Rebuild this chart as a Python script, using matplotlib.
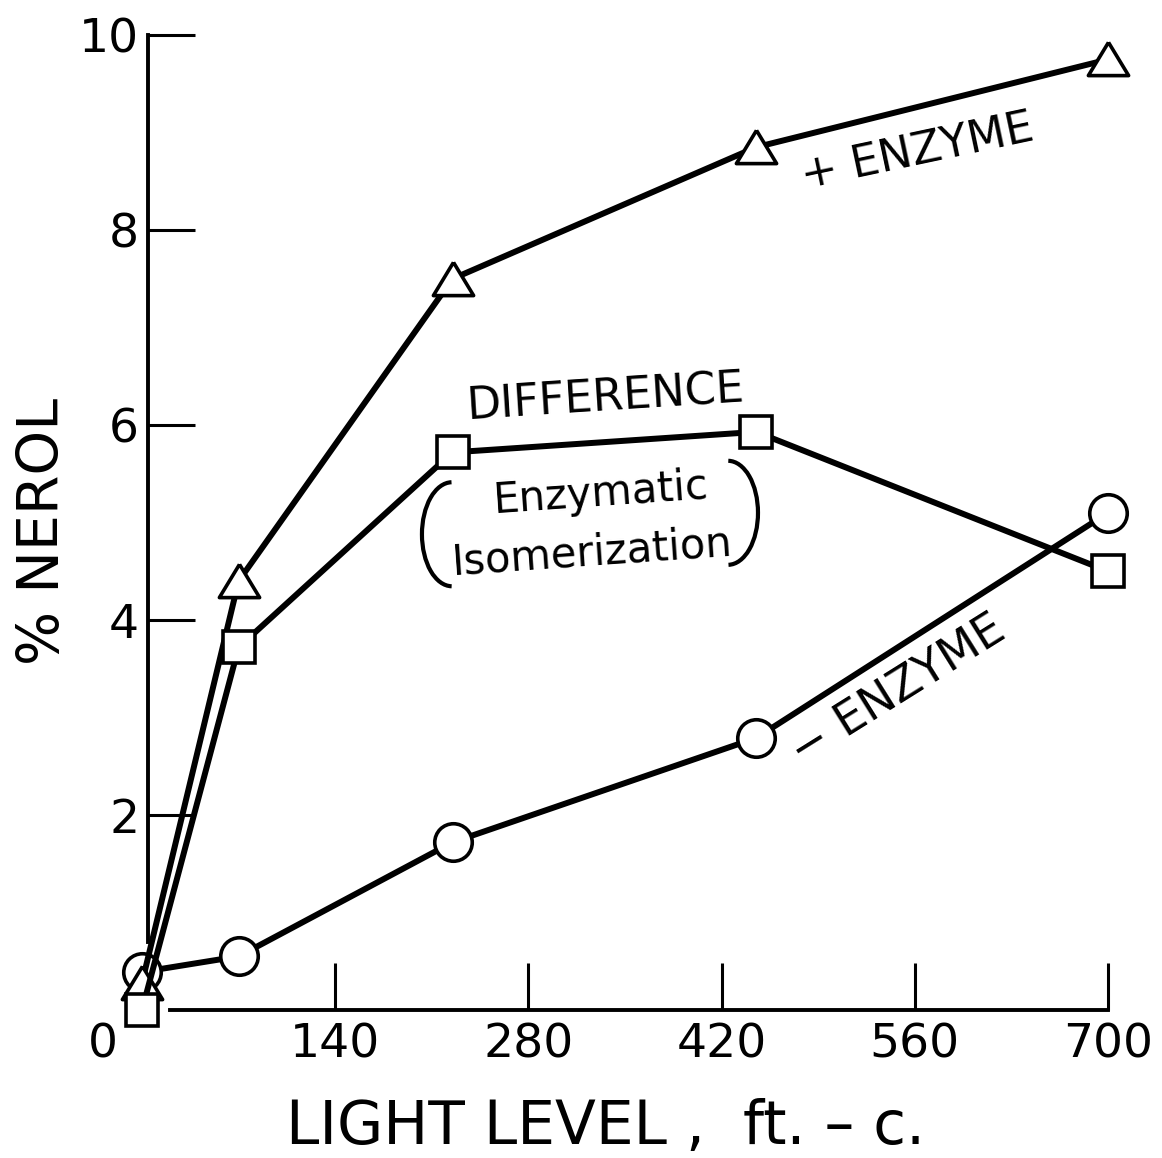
import matplotlib

matplotlib.use("Agg")
import matplotlib.pyplot as plt
from matplotlib.patches import Arc

# light level (ft.-c.) and % nerol for each series
light = [0, 70, 225, 445, 700]
plus_enzyme = [0.28, 4.4, 7.5, 8.85, 9.75]
minus_enzyme = [0.39, 0.55, 1.72, 2.79, 5.1]
difference = [0.0, 3.72, 5.72, 5.93, 4.5]

x_ticks = [140, 280, 420, 560, 700]
y_ticks = [2, 4, 6, 8, 10]

plt.rcParams["font.family"] = ["DejaVu Sans"]

fig = plt.figure(figsize=(11.62, 11.58), dpi=100)
ax = fig.add_axes([0, 0, 1, 1])
ax.set_xlim(-102.9, 739.1)
ax.set_ylim(-1.518, 10.36)

line_kw = dict(color="black", lw=4.3, markerfacecolor="white",
               markeredgecolor="black", markeredgewidth=2.6, clip_on=False)
tri = [(0, 0.85), (-1, -0.8), (1, -0.8), (0, 0.85)]

ax.plot(light, minus_enzyme, marker="o", ms=27, zorder=3, **line_kw)
ax.plot(light, plus_enzyme, marker=tri, ms=29, zorder=4, **line_kw)
ax.plot(light, difference, marker="s", ms=23, zorder=5, **line_kw)

# axes drawn as a free-standing frame
for side in ("top", "right"):
    ax.spines[side].set_visible(False)
ax.spines["left"].set_position(("data", 4))
ax.spines["left"].set_bounds(0.7, 10)
ax.spines["bottom"].set_position(("data", 0))
ax.spines["bottom"].set_bounds(20, 700)
ax.spines["left"].set_linewidth(2.8)
ax.spines["bottom"].set_linewidth(2.8)

ax.set_xticks(x_ticks)
ax.set_yticks(y_ticks)
ax.tick_params(axis="both", direction="in", length=34, width=2.2,
               labelsize=34)
ax.tick_params(axis="x", pad=9)
ax.tick_params(axis="y", pad=6)
ax.annotate("0", xy=(-28, 0), xytext=(0, -9), textcoords="offset points",
            ha="center", va="top", fontsize=34)

ax.set_xlabel("LIGHT LEVEL ,  ft. \u2013 c.", fontsize=43)
ax.xaxis.set_label_coords(0.5215, 0.052)
ax.set_ylabel("% NEROL", fontsize=41)
ax.yaxis.set_label_coords(0.061, 0.541)

text_kw = dict(ha="center", va="center", rotation_mode="anchor")
ax.text(562, 8.8, "+ ENZYME", fontsize=32, rotation=12, **text_kw)
ax.text(548, 3.28, "\u2212 ENZYME", fontsize=33, rotation=32, **text_kw)
ax.text(336, 6.28, "DIFFERENCE", fontsize=32, rotation=3.7, **text_kw)
ax.text(333, 5.30, "Enzymatic", fontsize=30, rotation=4, **text_kw)
ax.text(326, 4.69, "Isomerization", fontsize=30, rotation=4, **text_kw)

# brackets round the "Enzymatic Isomerization" note
ax.add_patch(Arc((224.6, 4.88), 43.5, 1.067, theta1=122, theta2=246,
                 lw=3, color="black"))
ax.add_patch(Arc((424.6, 5.10), 43.5, 1.067, theta1=-55, theta2=66,
                 lw=3, color="black"))

fig.savefig("out.png", dpi=100)
